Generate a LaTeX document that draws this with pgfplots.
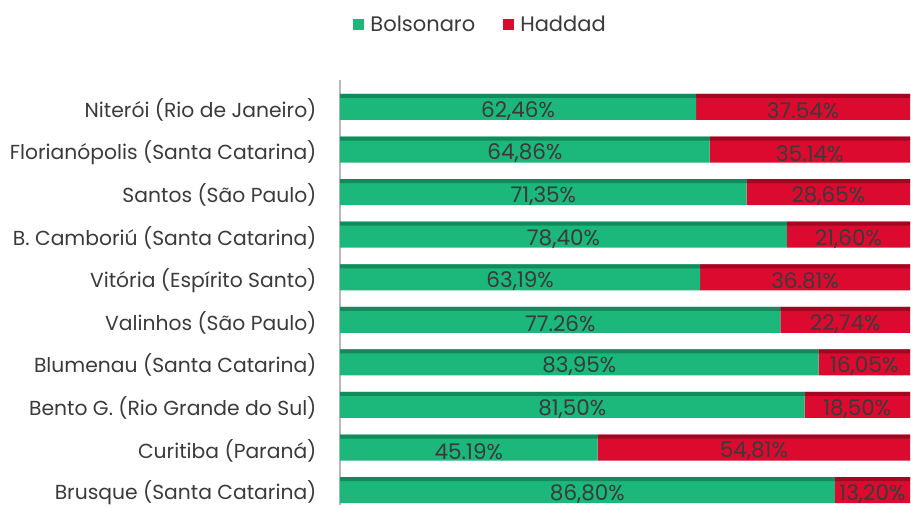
\documentclass[border=0pt]{standalone}
\usepackage{fontspec}
\setmainfont{Poppins}
\usepackage{pgfplots}
\pgfplotsset{compat=1.18}
\definecolor{bgreen}{HTML}{1BB77B}
\definecolor{bgreendk}{HTML}{128A5B}
\definecolor{hred}{HTML}{DD0A2F}
\definecolor{hreddk}{HTML}{A00822}
\definecolor{txt}{HTML}{3A3A3A}
\pgfplotsset{common/.style={
  at={(340pt,2pt)}, anchor=south west,
  scale only axis, width=570pt, height=425pt,
  xmin=0, xmax=100, ymin=-0.634, ymax=9.35, y dir=reverse,
  clip=false,
}}
\begin{document}
\begin{tikzpicture}
\useasboundingbox (0,0) rectangle (911pt,507pt);
% main bars
\begin{axis}[common,
  xbar stacked, bar width=26pt,
  hide x axis,
  axis y line*=left,
  y axis line style={draw=gray!55, line width=1.2pt, -},
  ytick={0,...,9}, major tick length=0pt,
  yticklabels={Niterói (Rio de Janeiro),Florianópolis (Santa Catarina),Santos (São Paulo),B. Camboriú (Santa Catarina),Vitória (Espírito Santo),Valinhos (São Paulo),Blumenau (Santa Catarina),Bento G. (Rio Grande do Sul),Curitiba (Paraná),Brusque (Santa Catarina)},
  yticklabel style={font=\fontsize{20.3}{24}\selectfont, text=txt, xshift=-20pt, yshift=-3pt},
  legend style={at={(0.018,1.13)}, anchor=west, draw=none, legend columns=2,
    font=\fontsize{21}{24}\selectfont, text=txt,
    /tikz/every odd column/.append style={column sep=4pt},
    /tikz/every even column/.append style={column sep=26pt}},
  legend image code/.code={\fill[#1] (0pt,-5.5pt) rectangle (11pt,5.5pt);},
]
\addplot[fill=bgreen, draw=none] coordinates {(62.46,0) (64.86,1) (71.35,2) (78.40,3) (63.19,4) (77.26,5) (83.95,6) (81.50,7) (45.19,8) (86.80,9)};
\addplot[fill=hred, draw=none] coordinates {(37.54,0) (35.14,1) (28.65,2) (21.60,3) (36.81,4) (22.74,5) (16.05,6) (18.50,7) (54.81,8) (13.20,9)};
\legend{Bolsonaro,Haddad}
\end{axis}
% darker top strips (3D effect)
\begin{axis}[common, hide axis, xbar stacked, bar width=4pt, bar shift=11pt]
\addplot[fill=bgreendk, draw=none] coordinates {(62.46,0) (64.86,1) (71.35,2) (78.40,3) (63.19,4) (77.26,5) (83.95,6) (81.50,7) (45.19,8) (86.80,9)};
\addplot[fill=hreddk, draw=none] coordinates {(37.54,0) (35.14,1) (28.65,2) (21.60,3) (36.81,4) (22.74,5) (16.05,6) (18.50,7) (54.81,8) (13.20,9)};
\end{axis}
% value labels
\begin{axis}[common, hide axis]
\addplot[draw=none, mark=none, nodes near coords={\pgfplotspointmeta\%}, point meta=explicit symbolic,
  nodes near coords style={anchor=center, font=\fontsize{21.5}{24}\selectfont, text=txt, yshift=-4pt}]
  table[meta=lab] {
x y lab
31.23 0 62,46
32.43 1 64,86
35.675 2 71,35
39.20 3 78,40
31.595 4 63,19
38.63 5 77.26
41.975 6 83,95
40.75 7 81,50
22.595 8 45.19
43.40 9 86,80
81.23 0 37.54
82.43 1 35.14
85.675 2 28,65
89.20 3 21,60
81.595 4 36.81
88.63 5 22,74
91.975 6 16,05
90.75 7 18,50
72.595 8 54,81
93.40 9 13,20
};
\end{axis}
\end{tikzpicture}
\end{document}
